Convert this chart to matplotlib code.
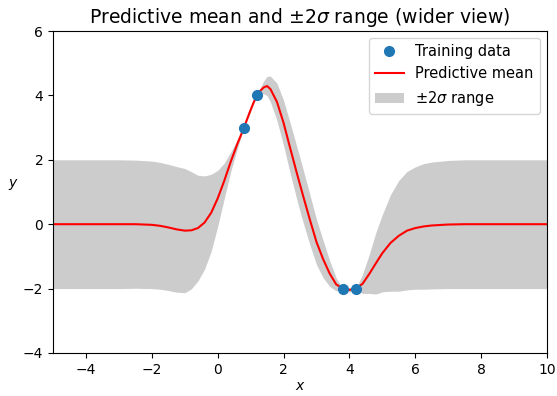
import matplotlib
matplotlib.use('Agg')
import matplotlib.pyplot as plt
import numpy as np

plt.rcParams['font.size'] = 10

# training points
x_train = [0.8, 1.2, 3.8, 4.2]
y_train = [3.0, 4.0, -2.0, -2.0]

# predictive mean and 2*sigma
x_grid = [-5.0, -4.0, -3.0, -2.5, -2.0, -1.75, -1.5, -1.25, -1.0, -0.8, -0.6, -0.4,
          -0.2, 0.0, 0.2, 0.4, 0.6, 0.8, 0.9, 1.0, 1.1, 1.2, 1.3, 1.4, 1.5, 1.6, 1.8, 2.0, 2.2,
          2.4, 2.5, 2.6, 2.8, 3.0, 3.2, 3.4, 3.6, 3.8, 4.0, 4.2, 4.4, 4.6, 4.8,
          5.0, 5.25, 5.5, 5.75, 6.0, 6.25, 6.5, 7.0, 7.5, 8.0, 9.0, 10.0]
mean = [0.0, 0.0, 0.0, 0.0, -0.02, -0.05, -0.1, -0.16, -0.2, -0.19, -0.12, 0.05,
        0.35, 0.8, 1.35, 1.95, 2.5, 3.0, 3.28, 3.55, 3.8, 4.0, 4.15, 4.25, 4.29, 4.2, 3.8, 3.15, 2.37,
        1.6, 1.23, 0.86, 0.14, -0.55, -1.08, -1.53, -1.87, -2.0, -2.04, -2.0, -1.85, -1.55, -1.22,
        -0.9, -0.58, -0.36, -0.2, -0.12, -0.07, -0.04, -0.01, 0.0, 0.0, 0.0, 0.0]
two_sigma = [2.0, 2.0, 2.0, 1.99, 1.98, 1.97, 1.96, 1.95, 1.93, 1.82, 1.64, 1.45,
             1.2, 0.87, 0.55, 0.3, 0.14, 0.0, 0.05, 0.07, 0.05, 0.0, 0.1, 0.2, 0.3, 0.4, 0.58, 0.7, 0.78,
             0.82, 0.83, 0.82, 0.78, 0.7, 0.58, 0.4, 0.2, 0.0, 0.07, 0.0, 0.3, 0.6, 0.95,
             1.2, 1.5, 1.72, 1.84, 1.9, 1.95, 1.97, 1.99, 2.0, 2.0, 2.0, 2.0]

xg = np.array(x_grid)
mu = np.array(mean)
s2 = np.array(two_sigma)

fig = plt.figure(figsize=(5.57, 3.96), dpi=100)
ax = fig.add_axes([0.0952, 0.1086, 0.8868, 0.8131])

ax.plot(x_train, y_train, 'o', color='C0', ms=7, zorder=3, label='Training data')
ax.plot(xg, mu, color='red', lw=1.5, zorder=2, label='Predictive mean')
ax.fill_between(xg, mu - s2, mu + s2, color='0.8', lw=0, zorder=1,
                label=r'$\pm 2\sigma$ range')

ax.set_xlim(-5, 10)
ax.set_ylim(-4, 6)
ax.set_title(r'Predictive mean and $\pm 2\sigma$ range (wider view)', fontsize=13.5)
ax.set_xlabel('$x$', labelpad=2)
ax.set_ylabel('$y$', rotation=0, labelpad=7)
ax.legend(loc='upper right', fontsize=10.5)

fig.savefig('out.png', dpi=100)
